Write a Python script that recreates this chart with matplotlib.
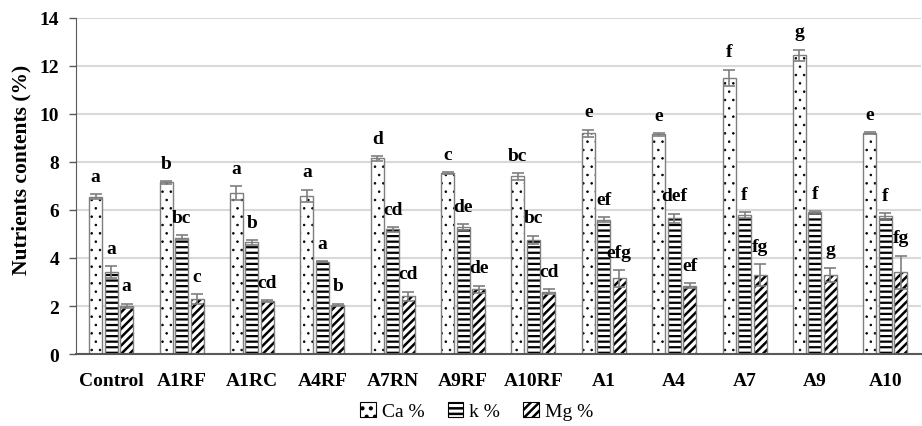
import matplotlib.pyplot as plt
import numpy as np

plt.rcParams['font.family'] = ['Liberation Serif', 'DejaVu Serif']

groups = ['Control', 'A1RF', 'A1RC', 'A4RF', 'A7RN', 'A9RF', 'A10RF', 'A1', 'A4', 'A7', 'A9', 'A10']

ca = [6.55, 7.15, 6.7, 6.6, 8.15, 7.55, 7.4, 9.2, 9.15, 11.5, 12.45, 9.2]
ca_err = [0.1, 0.07, 0.28, 0.25, 0.1, 0.03, 0.15, 0.15, 0.05, 0.35, 0.23, 0.05]
ca_let = ['a', 'b', 'a', 'a', 'd', 'c', 'bc', 'e', 'e', 'f', 'g', 'e']

k = [3.4, 4.85, 4.65, 3.85, 5.2, 5.3, 4.75, 5.6, 5.65, 5.8, 5.9, 5.75]
k_err = [0.25, 0.12, 0.1, 0.03, 0.1, 0.12, 0.18, 0.12, 0.2, 0.12, 0.05, 0.12]
k_let = ['a', 'bc', 'b', 'a', 'cd', 'de', 'bc', 'ef', 'def', 'f', 'f', 'f']

mg = [2.0, 2.3, 2.2, 2.05, 2.4, 2.7, 2.6, 3.15, 2.85, 3.3, 3.3, 3.4]
mg_err = [0.1, 0.2, 0.05, 0.05, 0.2, 0.15, 0.12, 0.35, 0.12, 0.45, 0.3, 0.7]
mg_let = ['a', 'c', 'cd', 'b', 'cd', 'de', 'cd', 'efg', 'ef', 'fg', 'g', 'fg']

series = [
    ('Ca %', ca, ca_err, ca_let, '..', 0.6),
    ('k %', k, k_err, k_let, '---', 1.6),
    ('Mg %', mg, mg_err, mg_let, '////', 1.8),
]

fig = plt.figure(figsize=(9.22, 4.27), dpi=100)
ax = fig.add_axes([0.0824, 0.1686, 0.916, 0.787])

x = np.arange(len(groups))
w = 0.185
step = 0.22


def set_hlw(patch, lw):
    if hasattr(patch, 'set_hatch_linewidth'):
        patch.set_hatch_linewidth(lw)


handles = []
for i, (name, vals, errs, lets, hatch, hlw) in enumerate(series):
    plt.rcParams['hatch.linewidth'] = hlw
    pos = x + (i - 1) * step
    bars = ax.bar(pos, vals, width=w, color='white', edgecolor='black', linewidth=0,
                  hatch=hatch, zorder=2)
    for b in bars:
        set_hlw(b, hlw)
    ax.bar(pos, vals, width=w, fill=False, edgecolor='#7f7f7f', linewidth=1.0, zorder=2.5)
    ax.errorbar(pos, vals, yerr=errs, fmt='none', ecolor='#7f7f7f', elinewidth=1.2,
                capsize=4, capthick=1.2, zorder=3)
    for p, v, e, l in zip(pos, vals, errs, lets):
        ax.text(p, v + e + 0.55, l, ha='center', va='baseline', fontsize=14,
                fontweight='bold', zorder=4)
    h = plt.Rectangle((0, 0), 1, 1, facecolor='white', edgecolor='black',
                      linewidth=0.8, hatch=hatch)
    set_hlw(h, hlw)
    handles.append(h)

ax.set_xlim(-0.5, len(groups) - 0.5)
ax.set_ylim(0, 14)
ax.set_yticks(np.arange(0, 15, 2))
ax.set_xticks(x)
ax.set_xticklabels(groups, fontweight='bold', fontsize=14)
ax.tick_params(axis='x', length=0, pad=13)
ax.tick_params(axis='y', length=5, width=1, color='#595959', pad=7, labelsize=14)
for t in ax.get_yticklabels():
    t.set_fontweight('bold')

ax.grid(axis='y', color='#d9d9d9', linewidth=1.5, zorder=0)
ax.set_axisbelow(True)
for s in ['top', 'right']:
    ax.spines[s].set_visible(False)
ax.spines['left'].set_color('#595959')
ax.spines['bottom'].set_color('#595959')
ax.spines['bottom'].set_linewidth(1.5)

ax.set_ylabel('Nutrients contents (%)', fontsize=15.5, fontweight='bold',
              va='center')
ax.yaxis.set_label_coords(-0.064, 0.55)

fig.legend(handles, [s[0] for s in series], loc='lower center',
           bbox_to_anchor=(0.517, -0.028), ncol=3, frameon=False, fontsize=14,
           handlelength=0.8, handleheight=0.8, handletextpad=0.3, columnspacing=1.2)

fig.savefig('out.png', dpi=100)
